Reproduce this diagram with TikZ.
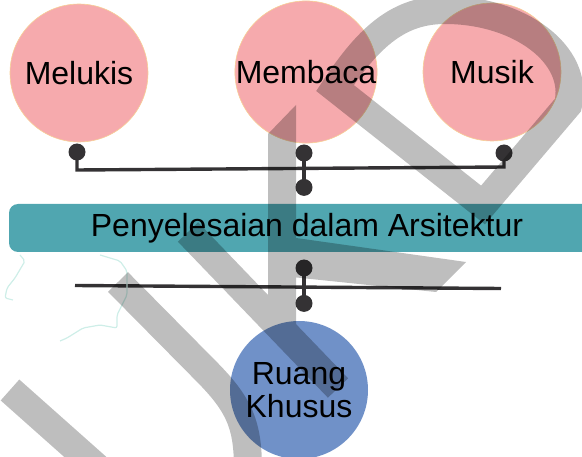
\documentclass[tikz,border=0pt]{standalone}
\usepackage{fontspec}
\setmainfont{Liberation Sans}
\usepackage{tikz}
\usetikzlibrary{positioning, backgrounds}
\definecolor{bubblepink}{RGB}{246,170,173}
\definecolor{bubbleedge}{RGB}{247,208,150}
\definecolor{bandteal}{RGB}{80,166,176}
\definecolor{roomblue}{RGB}{112,145,200}
\definecolor{wirecol}{RGB}{52,50,52}
\definecolor{mapline}{RGB}{206,238,232}
\tikzstyle{bubble}=[circle, fill=bubblepink, draw=bubbleedge, line width=0.6pt,
                    minimum size=138pt, inner sep=0pt, align=center,
                    font=\fontsize{32}{33}\selectfont]
\tikzstyle{band}=[rectangle, rounded corners=9pt, fill=bandteal,
                  minimum width=596pt, minimum height=48pt,
                  font=\fontsize{32}{33}\selectfont]
\tikzstyle{joint}=[circle, fill=wirecol, minimum size=17pt, inner sep=0pt]
\tikzstyle{linkline}=[line width=3.4pt, color=wirecol]
\tikzstyle{stamp}=[line width=28pt, black, line join=miter, miter limit=10]
\tikzstyle{squiggle}=[line width=1.2pt, color=mapline, rounded corners=2pt]

\begin{document}
\begin{tikzpicture}[x=1pt, y=-1pt]
  \useasboundingbox (0,0) rectangle (582,457);

  % Activities
  \node[bubble] (melukis) at (79,73) {Melukis};
  \node[bubble] (membaca) at (306,72) {Membaca};
  \node[bubble] (musik) at (492,72) {Musik};

  % Upper joints
  \node[joint] (pmel) at (77,152) {};
  \node[joint] (pmem) at (304,153) {};
  \node[joint] (pmus) at (504,153) {};
  \node[joint, below=17pt of pmem] (pmid) {};
  \coordinate (busl) at (77,170);
  \coordinate (busr) at (504,167);

  % Solution band
  \node[band] (solusi) at (307,228) {Penyelesaian dalam Arsitektur};

  % Lower joints
  \node[joint] (pup) at (304,268) {};
  \node[joint, below=18pt of pup] (pdown) {};
  \coordinate (basel) at (75,285.5);
  \coordinate (baser) at (501,288.5);

  % Result
  \node[bubble, fill=roomblue, draw=none] (ruang) at (299,390) {Ruang\\Khusus};

  % Lines
  \begin{pgfonlayer}{background}
    \draw[linkline] (pmel.center) -- (busl) -- (busr) -- (pmus.center);
    \draw[linkline] (pmem.center) -- (pmid.center);
    \draw[linkline] (basel) -- (baser);
    \draw[linkline] (pup.center) -- (pdown.center);
    \draw[squiggle] (20,255) -- (25,261) -- (15,278) -- (7,288) -- (5,298) -- (13,300);
    \draw[squiggle] (100,255) -- (120,261) -- (127,271) -- (127,295) -- (117,315)
      -- (117,328) -- (100,325) -- (83,328) -- (67,338) -- (60,341);
  \end{pgfonlayer}

  % Watermark
  \begin{scope}[transparency group, opacity=0.255]
    \fill[black] (268,134) -- (296,105) -- (296,335) -- (268,335) -- cycle;
    \fill[black] (282,236) -- (466,262) -- (436,292) -- (282,276) -- cycle;
    \draw[stamp] (10,390) -- (100,470);
    \draw[stamp] (118,282) -- (205,370) .. controls (240,405) and (248,425) .. (248,470);
    \draw[stamp] (188,232) -- (338,388);
    \draw[stamp] (335,88) .. controls (370,35) and (400,10) .. (445,10)
      .. controls (520,10) and (580,55) .. (568,105) -- (483,205) -- cycle;
  \end{scope}
\end{tikzpicture}
\end{document}
